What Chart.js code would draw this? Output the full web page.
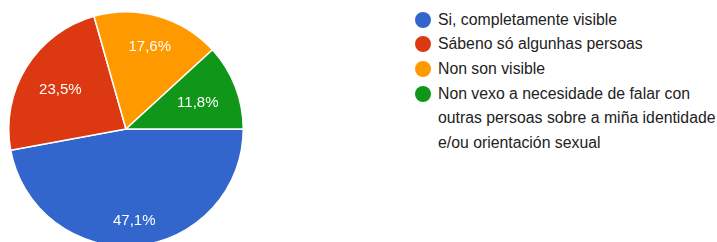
<!DOCTYPE html>
<html>
<head>
<meta charset="utf-8">
<script src="https://cdn.jsdelivr.net/npm/chart.js@4/dist/chart.umd.min.js"></script>
<style>
  html, body { margin: 0; padding: 0; background: #fff; width: 717px; height: 242px; overflow: hidden; }
  #pieBox { position: absolute; left: 8px; top: 10.5px; width: 236px; height: 236px; }
  #legend { position: absolute; left: 415px; top: 7.6px; font-family: "Liberation Sans", Arial, sans-serif; font-size: 15.8px; color: #222; }
  .item { position: relative; padding-left: 23px; line-height: 24.7px; }
  .dot { position: absolute; left: 0; top: 4px; width: 16px; height: 16px; border-radius: 50%; }
</style>
</head>
<body>
<div id="pieBox"><canvas id="c"></canvas></div>
<div id="legend"></div>
<script>
const categories = [
  "Si, completamente visible",
  "Sábeno só algunhas persoas",
  "Non son visible",
  ["Non vexo a necesidade de falar con", "outras persoas sobre a miña identidade", "e/ou orientación sexual"]
];
const values = [47.1, 23.5, 17.6, 11.8];
const valueLabels = ["47,1%", "23,5%", "17,6%", "11,8%"];
const colors = ["#3366cc", "#dc3912", "#ff9900", "#109618"];

const legendEl = document.getElementById('legend');
categories.forEach((cat, i) => {
  const d = document.createElement('div');
  d.className = 'item';
  const dot = document.createElement('span');
  dot.className = 'dot';
  dot.style.background = colors[i];
  d.appendChild(dot);
  const lines = Array.isArray(cat) ? cat : [cat];
  lines.forEach((ln, j) => {
    if (j) d.appendChild(document.createElement('br'));
    d.appendChild(document.createTextNode(ln));
  });
  legendEl.appendChild(d);
});

const labelPlugin = {
  id: 'sliceLabels',
  afterDatasetsDraw(chart) {
    const ctx = chart.ctx;
    const meta = chart.getDatasetMeta(0);
    ctx.save();
    ctx.fillStyle = '#ffffff';
    ctx.font = '15px "Liberation Sans", Arial, sans-serif';
    ctx.textAlign = 'center';
    ctx.textBaseline = 'middle';
    meta.data.forEach((arc, i) => {
      const p = arc.getProps(['x', 'y', 'startAngle', 'endAngle', 'outerRadius'], true);
      const mid = (p.startAngle + p.endAngle) / 2;
      const w = ctx.measureText(valueLabels[i]).width;
      const h = 12;
      const c = Math.cos(mid), s = Math.sin(mid);
      const ext = Math.abs(c) * w / 2 + Math.abs(s) * h / 2;
      const r = p.outerRadius * 0.84 - ext;
      ctx.fillText(valueLabels[i], p.x + c * r, p.y + s * r + 1.5);
    });
    ctx.restore();
  }
};

new Chart(document.getElementById('c'), {
  type: 'pie',
  data: {
    labels: categories.map(c => Array.isArray(c) ? c.join(' ') : c),
    datasets: [{
      data: values,
      backgroundColor: colors,
      borderColor: '#ffffff',
      borderWidth: 1.5
    }]
  },
  options: {
    responsive: true,
    maintainAspectRatio: false,
    animation: false,
    rotation: 90,
    layout: { padding: 0 },
    plugins: { legend: { display: false }, tooltip: { enabled: false } }
  },
  plugins: [labelPlugin]
});
</script>
</body>
</html>
